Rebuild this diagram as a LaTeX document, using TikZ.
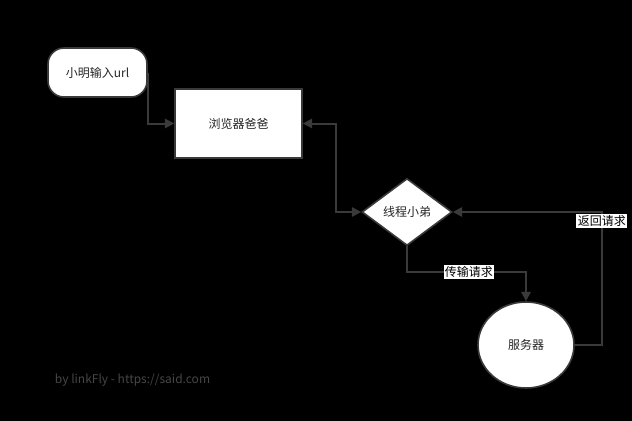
\documentclass[tikz,border=0pt]{standalone}
\usepackage{fontspec}
\setmainfont{Noto Sans CJK SC}
\usetikzlibrary{shapes.geometric,arrows.meta}
\definecolor{linegray}{RGB}{58,58,58}
\definecolor{markgray}{RGB}{70,70,70}
\tikzset{every picture/.style={line width=0.75pt},
  box/.style={draw=linegray,fill=white,line width=1.2pt,font=\fontsize{9}{11}\selectfont,text=black!85,inner sep=0pt},
  link/.style={draw=linegray,line width=1.5pt,-{Triangle[length=7pt,width=7pt]}},
  tag/.style={fill=white,inner sep=1pt,font=\fontsize{9}{11}\selectfont}}
\begin{document}
\begin{tikzpicture}[x=0.75pt,y=0.75pt,yscale=-1,xscale=1]
\fill[black] (0,0) rectangle (632,421);
\useasboundingbox (0,0) rectangle (632,421);

% Nodes
\node (user) [box,rounded corners=12pt,minimum width=74.25pt,minimum height=36.75pt] at (97.5,72.5) {小明输入url};
\node (browser) [box,rectangle,minimum width=95.25pt,minimum height=51.75pt] at (238.5,123.5) {浏览器爸爸};
\node (thread) [box,diamond,aspect=1.34,minimum width=67.5pt,minimum height=50.25pt] at (407,212) {线程小弟};
\node (server) [box,ellipse,minimum width=72pt,minimum height=64.5pt] at (526,345) {服务器};

% Connectors
\draw [link] (user.east) -- ++(0,51) -- (browser.west);
\draw [link,{Triangle[length=7pt,width=7pt]}-{Triangle[length=7pt,width=7pt]}] (browser.east) -- ++(33,0) |- (thread.west);
\draw [link] (thread.south) -- ++(0,26) -| node[tag,pos=0.26] {传输请求} (server.north);
\draw [link] (server.east) -- ++(27,0) |- node[tag,pos=0.466] {返回请求} (thread.east);

% Text Node
\node (sign) [anchor=west,text=markgray,font=\fontsize{9}{11}\selectfont] at (50,380) {by linkFly - https://said.com};
\end{tikzpicture}
\end{document}
